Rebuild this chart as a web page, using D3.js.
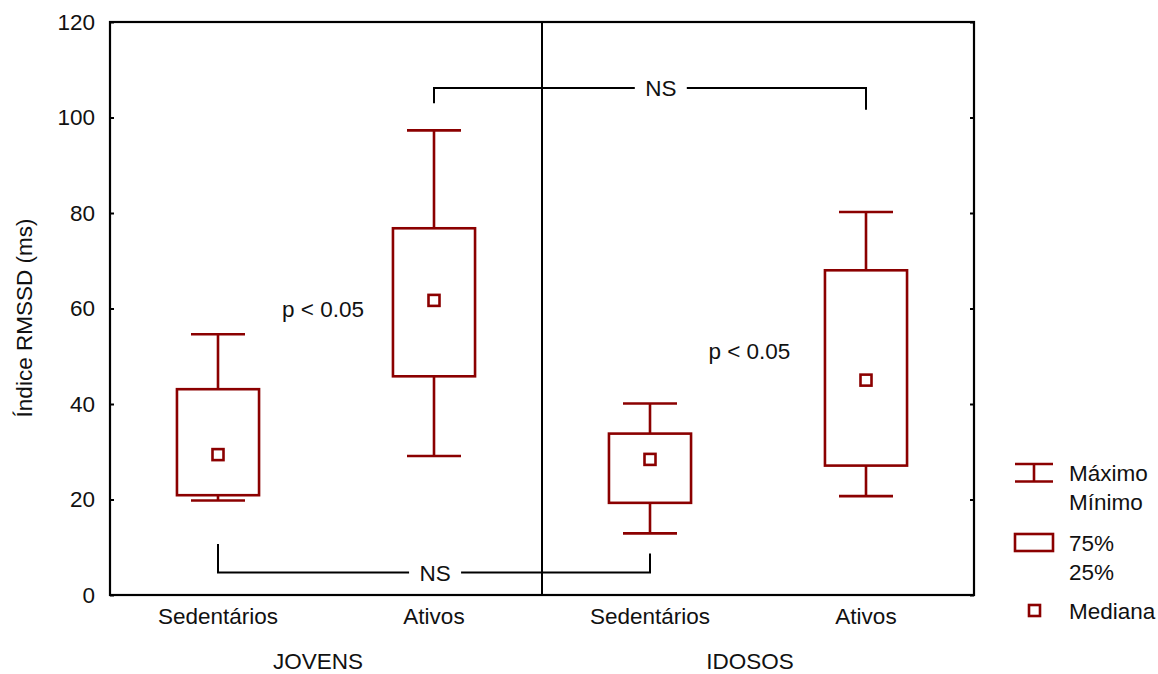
<!DOCTYPE html>
<html>
<head>
<meta charset="utf-8">
<script src="https://cdn.jsdelivr.net/npm/d3@7"></script>
<style>
  html, body { margin: 0; padding: 0; background: #fff; }
  svg text { font-family: "Liberation Sans", Arial, sans-serif; fill: #111; }
</style>
</head>
<body>
<svg id="chart" width="1158" height="674"></svg>
<script>
// RMSSD summary per group (ms)
const categories = ["Sedentários", "Ativos", "Sedentários", "Ativos"];
const groups = ["JOVENS", "IDOSOS"];
const maxValues = [54.6, 97.3, 40.1, 80.2];
const q75Values = [43.1, 76.8, 33.8, 68.0];
const medianValues = [29.4, 61.7, 28.4, 45.0];
const q25Values = [20.9, 45.8, 19.3, 27.1];
const minValues = [19.8, 29.1, 12.9, 20.7];
const yTicks = [0, 20, 40, 60, 80, 100, 120];

// Significance brackets: from/to category index, bar level, leg ends, label position
const brackets = [
  { from: 1, to: 3, level: 106.2, legFrom: 103.0, legTo: 101.6, label: "NS", labelPos: 2.05 },
  { from: 0, to: 2, level: 4.7, legFrom: 10.7, legTo: 8.7, label: "NS", labelPos: 1.005 }
];
const pLabels = [
  { pos: 0.486, value: 59.9, text: "p < 0.05" },
  { pos: 2.46, value: 51.1, text: "p < 0.05" }
];

const boxColor = "#8b0000";
const svg = d3.select("#chart");
const margin = { left: 110, right: 184, top: 22, bottom: 79 };
const W = 1158, H = 674;
const x0 = margin.left, x1 = W - margin.right;
const y0 = H - margin.bottom, y1 = margin.top;

const idx = d3.range(categories.length);
const x = d3.scaleBand().domain(idx).range([x0, x1]).padding(0);
const xc = i => x(i) + x.bandwidth() / 2;
// continuous position over category indices for annotations
const xi = d3.scaleLinear().domain([0, 3]).range([xc(0), xc(3)]);
const y = d3.scaleLinear().domain([0, 120]).range([y0, y1]);

const fs = 22.5;
const ff = '"Liberation Sans", Arial, sans-serif';

// Left axis (ticks pointing inward)
const leftAxis = svg.append("g").attr("transform", `translate(${x0},0)`)
  .call(d3.axisLeft(y).tickValues(yTicks).tickSizeInner(-4).tickSizeOuter(0).tickPadding(15));
leftAxis.select(".domain").remove();
leftAxis.selectAll("line").attr("stroke", "#000").attr("stroke-width", 2);
leftAxis.selectAll("text").attr("font-size", fs).attr("fill", "#111").attr("font-family", ff);

// Right axis mirrors ticks, no labels
const rightAxis = svg.append("g").attr("transform", `translate(${x1},0)`)
  .call(d3.axisRight(y).tickValues(yTicks).tickSizeInner(-4).tickSizeOuter(0).tickFormat(""));
rightAxis.select(".domain").remove();
rightAxis.selectAll("line").attr("stroke", "#000").attr("stroke-width", 2);

// Frame
svg.append("rect").attr("x", x0).attr("y", y1).attr("width", x1 - x0).attr("height", y0 - y1)
  .attr("fill", "none").attr("stroke", "#000").attr("stroke-width", 2.2);

// Divider between the two age groups
svg.append("line").attr("x1", (x0 + x1) / 2).attr("x2", (x0 + x1) / 2)
  .attr("y1", y1).attr("y2", y0).attr("stroke", "#000").attr("stroke-width", 2);

// Category labels
const bottomAxis = svg.append("g").attr("transform", `translate(0,${y0})`)
  .call(d3.axisBottom(x).tickSize(0).tickPadding(13).tickFormat(i => categories[i]));
bottomAxis.select(".domain").remove();
bottomAxis.selectAll("text").attr("font-size", fs).attr("fill", "#111").attr("font-family", ff);

// Group labels
groups.forEach((g, gi) => {
  svg.append("text")
    .attr("x", (xc(gi * 2) + xc(gi * 2 + 1)) / 2 - 8)
    .attr("y", 669).attr("text-anchor", "middle").attr("font-size", fs).text(g);
});

// Y title
svg.append("text")
  .attr("transform", `translate(32,318) rotate(-90)`)
  .attr("text-anchor", "middle").attr("font-size", fs).text("Índice RMSSD (ms)");

// Box plots
const boxW = x.bandwidth() * 0.38;
const capW = x.bandwidth() * 0.25;
const sq = 11;
const boxes = svg.append("g");
idx.forEach(i => {
  const cx = xc(i);
  const g = boxes.append("g").attr("stroke", boxColor).attr("stroke-width", 2.6).attr("fill", "none");
  g.append("line").attr("x1", cx).attr("x2", cx).attr("y1", y(maxValues[i])).attr("y2", y(q75Values[i]));
  g.append("line").attr("x1", cx).attr("x2", cx).attr("y1", y(q25Values[i])).attr("y2", y(minValues[i]));
  g.append("line").attr("x1", cx - capW / 2).attr("x2", cx + capW / 2)
    .attr("y1", y(maxValues[i])).attr("y2", y(maxValues[i]));
  g.append("line").attr("x1", cx - capW / 2).attr("x2", cx + capW / 2)
    .attr("y1", y(minValues[i])).attr("y2", y(minValues[i]));
  g.append("rect").attr("x", cx - boxW / 2).attr("width", boxW)
    .attr("y", y(q75Values[i])).attr("height", y(q25Values[i]) - y(q75Values[i]));
  g.append("rect").attr("x", cx - sq / 2).attr("y", y(medianValues[i]) - sq / 2)
    .attr("width", sq).attr("height", sq);
});

// Significance brackets
brackets.forEach(b => {
  const xa = xi(b.from), xb = xi(b.to), yl = y(b.level);
  const xt = xi(b.labelPos);
  const gap = 26;
  const g = svg.append("g").attr("stroke", "#000").attr("stroke-width", 2).attr("fill", "none");
  g.append("path").attr("d", `M${xa},${y(b.legFrom)}V${yl}H${xt - gap}`);
  g.append("path").attr("d", `M${xt + gap},${yl}H${xb}V${y(b.legTo)}`);
  svg.append("text").attr("x", xt).attr("y", yl + 8).attr("text-anchor", "middle")
    .attr("font-size", fs).text(b.label);
});

pLabels.forEach(p => {
  svg.append("text").attr("x", xi(p.pos)).attr("y", y(p.value) + 8)
    .attr("text-anchor", "middle").attr("font-size", fs).text(p.text);
});

// Legend
const lg = svg.append("g");
const lx = 1015, lw = 38, tx = 1069;
const lgs = lg.append("g").attr("stroke", boxColor).attr("stroke-width", 2.6).attr("fill", "none");
lgs.append("line").attr("x1", lx).attr("x2", lx + lw).attr("y1", 464).attr("y2", 464);
lgs.append("line").attr("x1", lx).attr("x2", lx + lw).attr("y1", 481.5).attr("y2", 481.5);
lgs.append("line").attr("x1", lx + lw / 2).attr("x2", lx + lw / 2).attr("y1", 464).attr("y2", 481.5);
lgs.append("rect").attr("x", lx).attr("y", 534).attr("width", lw).attr("height", 17);
lgs.append("rect").attr("x", 1029).attr("y", 605).attr("width", sq).attr("height", sq);
[["Máximo", 473], ["Mínimo", 502], ["75%", 543], ["25%", 572], ["Mediana", 611]].forEach(([t, cy]) => {
  lg.append("text").attr("x", tx).attr("y", cy + 8).attr("font-size", fs).text(t);
});
</script>
</body>
</html>
